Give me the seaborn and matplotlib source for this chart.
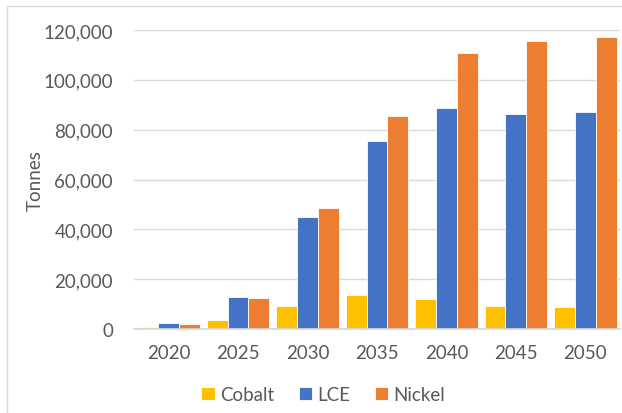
import matplotlib
matplotlib.use('Agg')
import matplotlib.pyplot as plt
import matplotlib.ticker as mticker
import pandas as pd
import seaborn as sns

# --------------------------------------------------
years = ['2020', '2025', '2030', '2035', '2040', '2045', '2050']
cobalt = [800, 3500, 9200, 13600, 12000, 9200, 8800]
lce = [2300, 12800, 44800, 75300, 88800, 86100, 87300]
nickel = [1900, 12500, 48700, 85500, 110900, 115800, 117300]
series = ['Cobalt', 'LCE', 'Nickel']
colors = ['#FFC000', '#4472C4', '#ED7D31']

df = pd.DataFrame({'year': years * 3,
                   'metal': [s for s in series for _ in years],
                   'tonnes': cobalt + lce + nickel})

sns.set_theme(style='white')
plt.rcParams['font.family'] = ['Lato', 'DejaVu Sans']
grey = '#595959'
fs = 13.5

fig = plt.figure(figsize=(6.22, 4.14), dpi=100)
ax = fig.add_axes([0.215, 0.203, 0.782, 0.722])

sns.barplot(data=df, x='year', y='tonnes', hue='metal', palette=colors,
            width=0.9, gap=0, ax=ax, edgecolor='#ffffff', linewidth=0.6,
            saturation=1, errorbar=None)

ax.set_ylim(0, 120000)
ax.set_xlim(-0.5, 6.5)
ax.yaxis.set_major_locator(mticker.MultipleLocator(20000))
ax.yaxis.set_major_formatter(mticker.FuncFormatter(lambda v, p: f'{v:,.0f}'))
ax.grid(axis='y', color='#D9D9D9', linewidth=1)
ax.set_axisbelow(True)
for s in ['top', 'right', 'left']:
    ax.spines[s].set_visible(False)
ax.spines['bottom'].set_color('#D9D9D9')
ax.tick_params(axis='y', length=0, pad=15, labelsize=fs, labelcolor=grey)
ax.tick_params(axis='x', length=0, pad=11, labelsize=fs, labelcolor=grey)
ax.set_xlabel('')
ax.set_ylabel('Tonnes', fontsize=fs, color=grey, labelpad=0)

ax.legend(loc='upper center', bbox_to_anchor=(0.39, -0.135), ncol=3,
          frameon=False, fontsize=fs, labelcolor=grey, handlelength=0.7,
          handleheight=0.7, handletextpad=0.3, columnspacing=1.3)

# outer chart border
fig.patches.append(plt.Rectangle((7 / 622, -0.1), 1.2, (414 - 7) / 414 + 0.1,
                                 transform=fig.transFigure, fill=False,
                                 edgecolor='#D9D9D9', linewidth=1))

fig.savefig('out.png', dpi=100)
